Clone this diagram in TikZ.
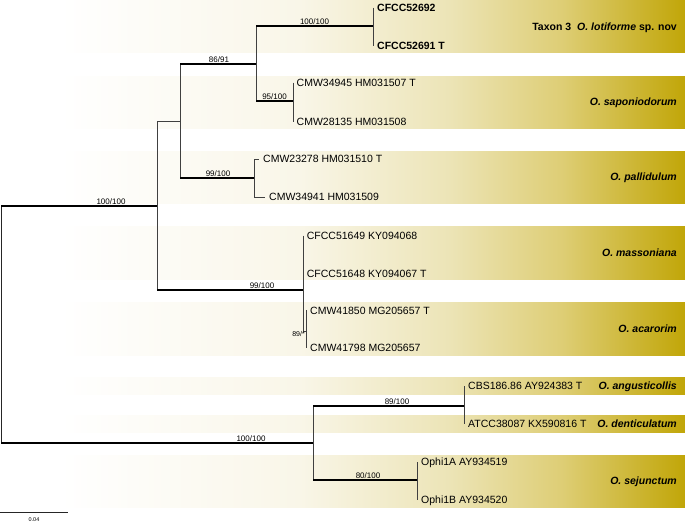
\documentclass[tikz,border=0pt]{standalone}
\usepackage{fontspec}
\setmainfont{Liberation Sans}
\definecolor{gold}{RGB}{193,166,8}
\definecolor{gA}{RGB}{249,246,232}
\definecolor{gB}{RGB}{236,228,182}
\definecolor{gC}{RGB}{222,206,118}
\pgfdeclarehorizontalshading{bandshade}{100bp}{color(0bp)=(white); color(29.4bp)=(white); color(46.9bp)=(gA); color(57.85bp)=(gB); color(65.9bp)=(gC); color(75bp)=(gold); color(100bp)=(gold)}
\begin{document}
\begin{tikzpicture}[x=1pt,y=-1pt,
  tiplab/.style={anchor=west,inner sep=0pt,text height=7.5pt,text depth=0pt,font=\fontsize{10.5}{12}\selectfont},
  tipbold/.style={tiplab,font=\fontsize{10.5}{12}\selectfont\bfseries},
  splab/.style={anchor=east,inner sep=0pt,text height=7.5pt,text depth=0pt,font=\fontsize{10.5}{12}\selectfont\bfseries\itshape},
  supp/.style={anchor=south,inner sep=0pt,font=\fontsize{8}{9}\selectfont},
  vl/.style={draw=black!75,line width=0.8pt},
  hb/.style={draw=black,line width=2.2pt},
  hn/.style={draw=black,line width=1.3pt},
  bandbox/.style={shading=bandshade}]
\useasboundingbox (0,0) rectangle (685,523);
% bands
\shade[bandbox] (0,0) rectangle (685,52.3);
\shade[bandbox] (0,76) rectangle (685,128.3);
\shade[bandbox] (0,151) rectangle (685,203.3);
\shade[bandbox] (0,226.7) rectangle (685,279.3);
\shade[bandbox] (0,302.7) rectangle (685,355);
\shade[bandbox] (0,377.3) rectangle (685,394.3);
\shade[bandbox] (0,415) rectangle (685,432.3);
\shade[bandbox] (0,455) rectangle (685,507.3);
% internal nodes
\coordinate (nR) at (1,206);
\coordinate (nU) at (157,206);
\coordinate (nA) at (180,121);
\coordinate (nB) at (256,64);
\coordinate (nT) at (373,26);
\coordinate (nS) at (293,101);
\coordinate (nP) at (254,178);
\coordinate (nM) at (303,290);
\coordinate (nC) at (306,331);
\coordinate (nL) at (313,443);
\coordinate (nD) at (464,406);
\coordinate (nE) at (417,480);
% tips
\node[tipbold] (t1) at (377,7.5) {CFCC52692};
\node[tipbold] (t2) at (377,45.5) {CFCC52691 T};
\node[tiplab] (t3) at (296.5,82.5) {CMW34945 HM031507 T};
\node[tiplab] (t4) at (296.5,121.5) {CMW28135 HM031508};
\node[tiplab] (t5) at (263,159) {CMW23278 HM031510 T};
\node[tiplab] (t6) at (269,197) {CMW34941 HM031509};
\node[tiplab] (t7) at (306.7,235.7) {CFCC51649 KY094068};
\node[tiplab] (t8) at (306.7,273.3) {CFCC51648 KY094067 T};
\node[tiplab] (t9) at (310,310.3) {CMW41850 MG205657 T};
\node[tiplab] (t10) at (310,348) {CMW41798 MG205657};
\node[tiplab] (t11) at (468,386) {CBS186.86 AY924383 T};
\node[tiplab] (t12) at (468,424) {ATCC38087 KX590816 T};
\node[tiplab] (t13) at (421,462) {Ophi1A AY934519};
\node[tiplab] (t14) at (421,499.7) {Ophi1B AY934520};
% species labels
\node[splab] (s1) at (677,26.3) {\upshape Taxon 3\hspace{6pt}\itshape O. lotiforme\upshape{} sp. nov};
\node[splab] (s2) at (677,102) {O. saponiodorum};
\node[splab] (s3) at (677,177) {O. pallidulum};
\node[splab] (s4) at (677,253) {O. massoniana};
\node[splab] (s5) at (677,329) {O. acarorim};
\node[splab] (s6) at (677,386) {O. angusticollis};
\node[splab] (s7) at (677,424) {O. denticulatum};
\node[splab] (s8) at (677,481) {O. sejunctum};
% verticals
\draw[draw=black!85,line width=1pt] (nR) -- (nR |- nL);
\draw[vl] (nU |- nA) -- (nU |- nM);
\draw[vl] (nA |- nB) -- (nA |- nP);
\draw[vl] (nB |- nT) -- (nB |- nS);
\draw[vl] (nT |- t1.west) -- (nT |- t2.west);
\draw[vl] (nS |- t3.west) -- (nS |- t4.west);
\draw[vl] (nP |- t5.west) -- (nP |- t6.west);
\draw[vl] (nM |- t7.west) -- (nM |- nC);
\draw[vl] (nC |- t9.west) -- (nC |- t10.west);
\draw[vl] (nL |- nD) -- (nL |- nE);
\draw[vl] (nD |- t11.west) -- (nD |- t12.west);
\draw[vl] (nE |- t13.west) -- (nE |- t14.west);
% tip tails
\draw[vl] (nP |- t5.west) -- ([xshift=-3.7pt]t5.west);
\draw[vl] (nP |- t6.west) -- ([xshift=-3.7pt]t6.west);
% horizontals
\draw[hn] (nR) -- (nU);
\draw[hn,line width=1.6pt] (nR |- nL) -- (nL);
\draw[vl] (nU |- nA) -- (nA);
\draw[hb] (nA |- nB) -- (nB);
\draw[hb] (nB |- nT) -- (nT);
\draw[hb] (nB |- nS) -- (nS);
\draw[hb] (nA |- nP) -- (nP);
\draw[hb] (nU |- nM) -- (nM);
\draw[vl] (nM |- nC) -- (nC);
\draw[hb] (nL |- nD) -- (nD);
\draw[hb] (nL |- nE) -- (nE);
% support values
\node[supp] (b1) at (111,204.6) {100/100};
\node[supp] (b2) at (219,62.3) {86/91};
\node[supp] (b3) at (314.5,24.3) {100/100};
\node[supp] (b4) at (274.5,99.3) {95/100};
\node[supp] (b5) at (218,176.3) {99/100};
\node[supp] (b6) at (262,288.3) {99/100};
\node[anchor=east,inner sep=0pt,font=\fontsize{7}{8}\selectfont] (b7) at (305,334) {89/*};
\node[supp] (b8) at (251,441.5) {100/100};
\node[supp] (b9) at (397,404.3) {89/100};
\node[supp] (b10) at (368,478.3) {80/100};
% scale bar
\coordinate (sb1) at (0,512.7);
\coordinate (sb2) at (68,512.7);
\draw[draw=black!85,line width=0.8pt] (sb1) -- (sb2);
\node[inner sep=0pt,font=\fontsize{5.5}{6}\selectfont] (sbl) at (34,519.3) {0.04};
\end{tikzpicture}
\end{document}
